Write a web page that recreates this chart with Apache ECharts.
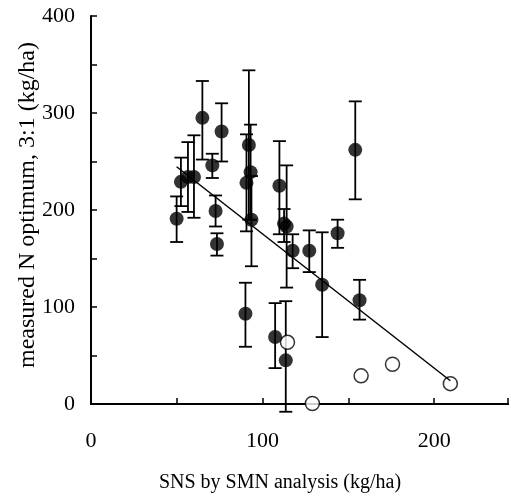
<!DOCTYPE html>
<html><head><meta charset="utf-8">
<script src="https://cdn.jsdelivr.net/npm/echarts@6/dist/echarts.min.js"></script>
<style>html,body{margin:0;padding:0;background:#fff}#c{width:511px;height:496px}</style>
</head><body><div id="c"></div>
<script>
// filled points (measured optimum with error bars)
var filledX = [64.9, 76.1, 70.7, 52.4, 56.5, 60.0, 49.9, 72.6, 73.4, 92.0, 93.0, 90.6, 93.5, 109.8, 112.5, 114.0, 117.5, 127.2, 134.7, 143.7, 154.0, 156.5, 90.0, 107.3, 113.5];
var filledY = [295, 281, 246, 229, 234, 234, 191, 199, 165, 267, 239, 228, 190, 225, 186, 183, 158, 158, 123, 176, 262, 107, 93, 69, 45];
var errLow  = [252, 250, 233, 204, 198, 192, 167, 183, 153, 190, 190, 178, 142, 175, 167, 120, 140, 136, 69, 161, 211, 87, 59, 37, -8];
var errHigh = [333, 310, 258, 254, 270, 277, 214, 215, 176, 344, 288, 278, 235, 271, 201, 246, 175, 179, 177, 190, 312, 128, 125, 104, 106];
// open points
var openX = [114.5, 129.0, 157.4, 175.7, 209.4];
var openY = [63.6, 0.5, 29, 41, 21];
// regression line end points
var lineX = [49.9, 209.4];
var lineY = [244.6, 24];
// axes
var xTickLabels = [0, 100, 200];
var yTickLabels = [0, 100, 200, 300, 400];
var xTitle = 'SNS by SMN analysis (kg/ha)';
var yTitle = 'measured N optimum, 3:1 (kg/ha)';

var FONT = 'Liberation Serif';
var filled = filledX.map(function (x, i) { return [x, filledY[i]]; });
var errs = filledX.map(function (x, i) { return [x, errLow[i], errHigh[i]]; });
var opens = openX.map(function (x, i) { return [x, openY[i]]; });
var line = lineX.map(function (x, i) { return [x, lineY[i]]; });

var chart = echarts.init(document.getElementById('c'), null, {renderer: 'canvas'});
chart.setOption({
  animation: false,
  grid: {left: 91, top: 16, right: 0, bottom: 92},
  graphic: [
    {type: 'text', x: 280, y: 483, style: {text: xTitle, fontFamily: FONT, fontSize: 20, fill: '#000', align: 'center', verticalAlign: 'middle'}},
    {type: 'text', x: 28, y: 205, rotation: Math.PI / 2, style: {text: yTitle, fontFamily: FONT, fontSize: 24, fill: '#000', align: 'center', verticalAlign: 'middle'}}
  ],
  xAxis: [{
    type: 'value', min: 0, max: 243, interval: 50,
    axisLine: {show: true, onZero: false, lineStyle: {color: '#000', width: 2}},
    axisTick: {show: true, inside: true, length: 6, lineStyle: {color: '#000', width: 1.5}},
    axisLabel: {fontFamily: FONT, fontSize: 22, color: '#000', margin: 26,
      formatter: function (v) { return xTickLabels.indexOf(v) >= 0 ? String(v) : ''; }},
    splitLine: {show: false}
  }, {
    type: 'value', position: 'top', min: 0, max: 243,
    axisLine: {show: true, lineStyle: {color: '#000', width: 2}},
    axisTick: {show: false}, axisLabel: {show: false}, splitLine: {show: false}
  }],
  yAxis: {
    type: 'value', min: 0, max: 400, interval: 50,
    axisLine: {show: true, onZero: false, lineStyle: {color: '#000', width: 2}},
    axisTick: {show: true, inside: true, length: 6, lineStyle: {color: '#000', width: 1.5}},
    axisLabel: {fontFamily: FONT, fontSize: 22, color: '#000', margin: 16,
      formatter: function (v) { return yTickLabels.indexOf(v) >= 0 ? String(v) : ''; }},
    splitLine: {show: false}
  },
  series: [{
    type: 'custom', data: errs, z: 2, clip: false,
    encode: {x: 0, y: [1, 2]},
    renderItem: function (params, api) {
      var x = api.value(0);
      var lo = api.coord([x, api.value(1)]);
      var hi = api.coord([x, api.value(2)]);
      var w = 6.5;
      var st = {stroke: '#000', lineWidth: 1.8};
      return {type: 'group', children: [
        {type: 'line', shape: {x1: lo[0], y1: lo[1], x2: hi[0], y2: hi[1]}, style: st},
        {type: 'line', shape: {x1: hi[0] - w, y1: hi[1], x2: hi[0] + w, y2: hi[1]}, style: st},
        {type: 'line', shape: {x1: lo[0] - w, y1: lo[1], x2: lo[0] + w, y2: lo[1]}, style: st}
      ]};
    }
  }, {
    type: 'scatter', data: opens, z: 3, symbol: 'circle', symbolSize: 14,
    itemStyle: {color: '#fff', borderColor: '#000', borderWidth: 1.5}
  }, {
    type: 'line', data: line, z: 4, symbol: 'none',
    lineStyle: {color: '#000', width: 1.5}
  }, {
    type: 'scatter', data: filled, z: 5, symbol: 'circle', symbolSize: 14,
    itemStyle: {color: '#000'}
  }]
});
</script></body></html>
